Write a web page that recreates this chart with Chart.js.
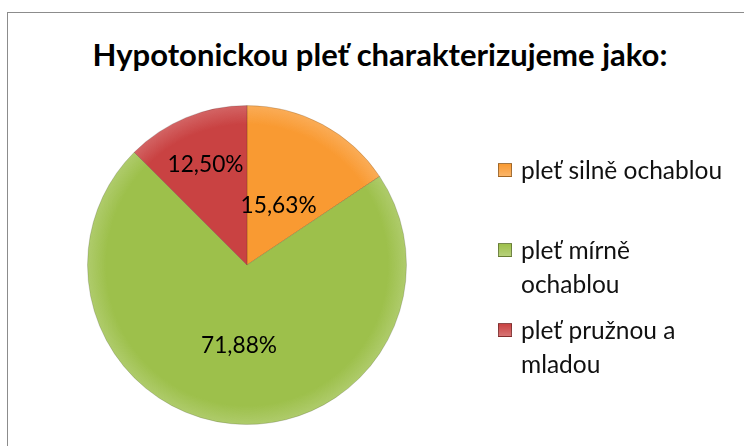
<!DOCTYPE html>
<html>
<head>
<meta charset="utf-8">
<script src="https://cdn.jsdelivr.net/npm/chart.js@4"></script>
<style>
    body { margin: 0; background: #fff; }
    #wrap { position: relative; width: 744px; height: 446px; overflow: hidden; }
    #frame { position: absolute; left: 7px; top: 12px; width: 800px; height: 500px; border: 1px solid #8c8c8c; }
    #titulo { position: absolute; left: 0; top: 35px; width: 760px; text-align: center; font-family: Lato, sans-serif; font-weight: bold; font-size: 26px; color: #000; white-space: nowrap; }
    #grafico { position: absolute; left: 0; top: 0; }
    #leyenda { position: absolute; left: 498px; top: 0; width: 240px; font-family: Lato, sans-serif; font-size: 20px; line-height: 34px; color: #111; }
    .item { position: absolute; left: 0; display: flex; align-items: flex-start; white-space: nowrap; }
    .caja { width: 14px; height: 14px; margin-top: 10px; margin-right: 9px; flex: none; border: 1px solid rgba(0,0,0,0.35); box-sizing: border-box; }
</style>
</head>
<body>
<div id="wrap">
    <div id="frame"></div>
    <div id="titulo">Hypotonickou pleť charakterizujeme jako:</div>
    <canvas id="grafico" width="744" height="446"></canvas>
    <div id="leyenda"></div>
</div>
<script>
// datos
const categorias = ['pleť silně ochablou', 'pleť mírně ochablou', 'pleť pružnou a mladou'];
const lineasLeyenda = [['pleť silně ochablou'], ['pleť mírně', 'ochablou'], ['pleť pružnou a', 'mladou']];
const porcentajes = [15.63, 71.88, 12.50];
const colores = ['#F99A32', '#9DC04B', '#C94242'];

// Calibri no esta: escalar las fuentes para que ocupen lo mismo
const ctxMedir = document.createElement('canvas').getContext('2d');
function tamFuente(texto, peso, anchoObjetivo) {
    ctxMedir.font = peso + ' 20px Lato';
    return 20 * anchoObjetivo / ctxMedir.measureText(texto).width;
}
const titulo = document.getElementById('titulo');
titulo.style.fontSize = tamFuente(titulo.textContent, 'bold', 575).toFixed(2) + 'px';
const fuenteLeyenda = tamFuente('pleť silně ochablou', 'normal', 201);
const fuenteEtiqueta = tamFuente('12,50%', 'normal', 76);

// leyenda en html (texto en varias lineas)
const leyenda = document.getElementById('leyenda');
leyenda.style.fontSize = fuenteLeyenda.toFixed(2) + 'px';
const topItems = [153, 233, 313];
leyenda.innerHTML = categorias.map((c, i) => `
    <div class="item" style="top:${topItems[i]}px">
        <span class="caja" style="background:linear-gradient(${colores[i]}, ${colores[i]}bb)"></span>
        <span>${lineasLeyenda[i].join('<br>')}</span>
    </div>
`).join('');

// etiquetas de porcentaje dentro de cada porcion
const radioEtiqueta = [0.42, 0.51, 0.68];
const pluginEtiquetas = {
    id: 'etiquetas',
    afterDatasetsDraw(chart) {
        const ctx = chart.ctx;
        const meta = chart.getDatasetMeta(0);
        ctx.save();
        ctx.font = fuenteEtiqueta.toFixed(2) + 'px Lato';
        ctx.fillStyle = '#000';
        ctx.textAlign = 'center';
        ctx.textBaseline = 'middle';
        meta.data.forEach((arc, i) => {
            const p = arc.getProps(['x', 'y', 'startAngle', 'endAngle', 'outerRadius']);
            const ang = (p.startAngle + p.endAngle) / 2;
            const r = p.outerRadius * radioEtiqueta[i];
            const txt = porcentajes[i].toFixed(2).replace('.', ',') + '%';
            ctx.fillText(txt, p.x + Math.cos(ang) * r, p.y + Math.sin(ang) * r);
        });
        ctx.restore();
    }
};

const canvas = document.getElementById('grafico');
const g = canvas.getContext('2d');
function relleno(color) {
    const grad = g.createRadialGradient(247, 265, 0, 247, 265, 160);
    grad.addColorStop(0, color);
    grad.addColorStop(0.88, color);
    grad.addColorStop(1, color + 'd0');
    return grad;
}

new Chart(canvas, {
    type: 'pie',
    data: {
        labels: categorias,
        datasets: [{
            data: porcentajes,
            backgroundColor: colores.map(relleno),
            borderColor: 'rgba(0,0,0,0.15)',
            borderWidth: 1
        }]
    },
    options: {
        responsive: false,
        animation: false,
        layout: { padding: { left: 87, right: 337, top: 105, bottom: 21 } },
        plugins: {
            legend: { display: false },
            tooltip: { enabled: false }
        }
    },
    plugins: [pluginEtiquetas]
});
</script>
</body>
</html>
